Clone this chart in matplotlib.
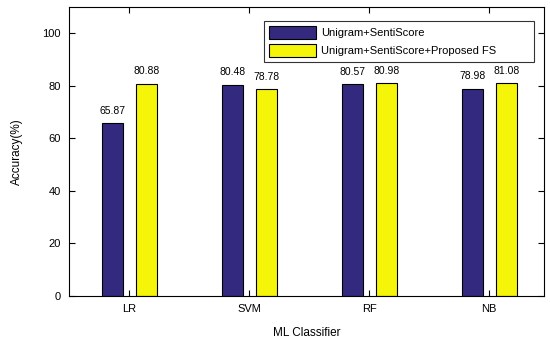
import numpy as np
import matplotlib
matplotlib.use('Agg')
import matplotlib.pyplot as plt

plt.rcParams['font.family'] = ['Liberation Sans', 'DejaVu Sans']

# Accuracy per classifier
classifiers = ['LR', 'SVM', 'RF', 'NB']
unigram_senti = [65.87, 80.48, 80.57, 78.98]
proposed_fs = [80.88, 78.78, 80.98, 81.08]
series_names = ['Unigram+SentiScore', 'Unigram+SentiScore+Proposed FS']

fig = plt.figure(figsize=(5.5, 3.41), dpi=100)
ax = fig.add_axes([0.1255, 0.132, 0.864, 0.847])

x = np.arange(1, len(classifiers) + 1)
w = 0.175
b1 = ax.bar(x - 0.14, unigram_senti, w, color='#332a80', edgecolor='black', linewidth=0.8, label=series_names[0])
b2 = ax.bar(x + 0.145, proposed_fs, w, color='#f5f50a', edgecolor='black', linewidth=0.8, label=series_names[1])

# value labels above the bars
for bars, vals in [(b1, unigram_senti), (b2, proposed_fs)]:
    for rect, v in zip(bars, vals):
        ax.text(rect.get_x() + rect.get_width() / 2, v + 2.8, f'{v:.2f}',
                ha='center', va='bottom', fontsize=7.5)

ax.set_xlim(0.5, 4.46)
ax.set_ylim(0, 110)
ax.set_yticks([0, 20, 40, 60, 80, 100])
ax.set_xticks(x)
ax.set_xticklabels(classifiers)
ax.tick_params(direction='in', top=True, right=True, labelsize=8, length=4, pad=6)
ax.set_xlabel('ML Classifier', fontsize=8.5, labelpad=9)
ax.set_ylabel('Accuracy(%)', fontsize=8.5, labelpad=14)

# wide legend box, as in the original
leg = ax.legend(loc='upper left', bbox_to_anchor=(0.4105, 0.952, 0.5685, 0.0), mode='expand',
                fontsize=8, frameon=True, fancybox=False, edgecolor='black',
                handlelength=4.2, handleheight=1.45, borderpad=0.45, labelspacing=0.45,
                handletextpad=0.45, borderaxespad=0)
leg.get_frame().set_linewidth(0.8)

fig.savefig('out.png', dpi=100)
